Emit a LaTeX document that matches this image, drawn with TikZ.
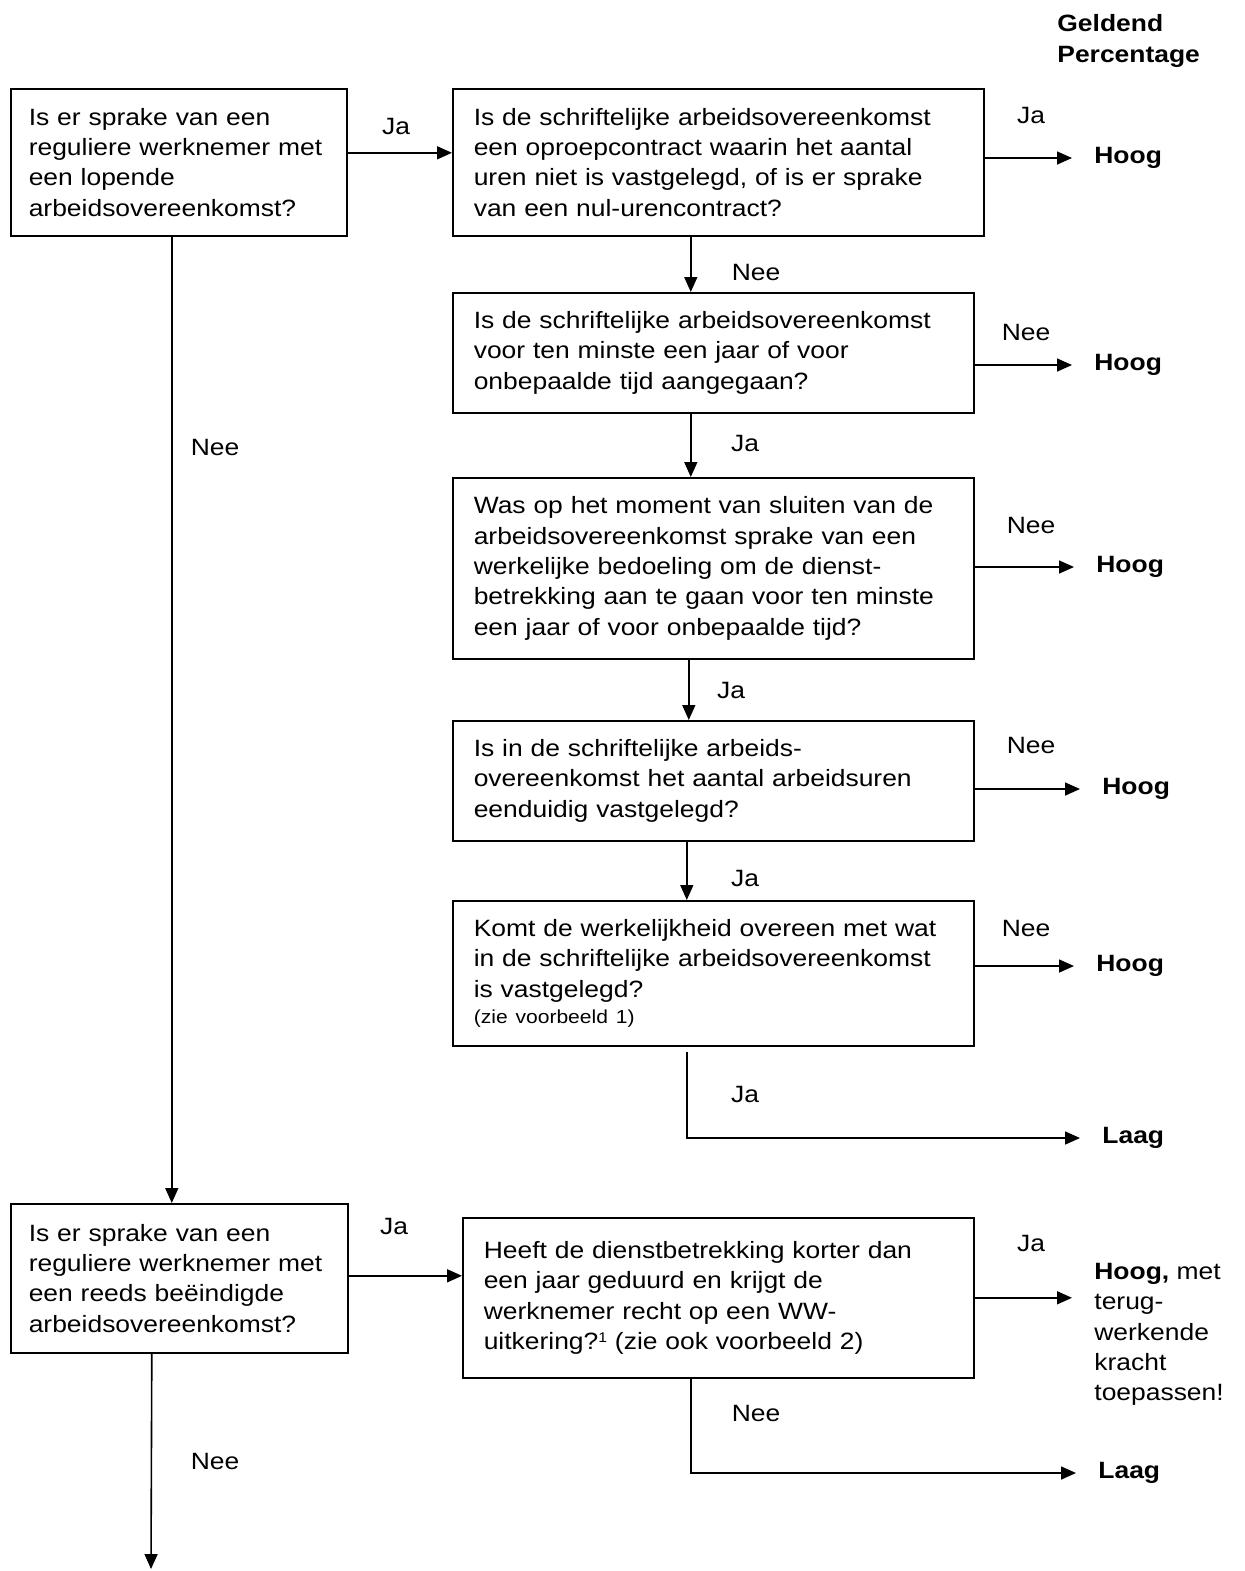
\documentclass[tikz,border=0pt]{standalone}
\usepackage{fontspec}
\setmainfont{Liberation Sans}[FakeStretch=1.12]
\usetikzlibrary{arrows.meta}

\begin{document}
\begin{tikzpicture}[x=0.5pt,y=-0.5pt,
    every node/.style={font=\fontsize{11.8}{15.15}\selectfont},
    vraag/.style={draw, line width=0.8pt, anchor=north west, align=left, inner xsep=10.5pt, inner ysep=0pt},
    uitkomst/.style={anchor=west, inner xsep=11pt, inner ysep=0pt, font=\fontsize{11.8}{15.15}\selectfont\bfseries},
    pijl/.style={line width=0.8pt, -{Triangle[length=7.5pt,width=6.5pt]}}]
%\draw [help lines] (0,0) grid (1245,1571);
    \useasboundingbox (0,0) rectangle (1245,1571);
    \node[anchor=west, align=left, inner sep=0pt, font=\fontsize{11.8}{15.5}\selectfont\bfseries] (kop) at (1057,41) {Geldend\\Percentage};
    % lopende arbeidsovereenkomst
    \node[vraag, text width=150pt, inner xsep=9pt, minimum height=73.5pt] (vraagA) at (10,88) {Is er sprake van een\\reguliere werknemer met\\een lopende\\arbeidsovereenkomst?};
    \node[vraag, text width=244.5pt, minimum height=73.5pt] (vraagB) at (452,88) {Is de schriftelijke arbeidsovereenkomst\\een oproepcontract waarin het aantal\\uren niet is vastgelegd, of is er sprake\\van een nul-urencontract?};
    \node[vraag, text width=239.5pt, minimum height=60pt] (vraagC) at (452,292) {Is de schriftelijke arbeidsovereenkomst\\voor ten minste een jaar of voor\\onbepaalde tijd aangegaan?};
    \node[vraag, text width=239.5pt, minimum height=90.5pt] (vraagD) at (452,477) {Was op het moment van sluiten van de\\arbeidsovereenkomst sprake van een\\werkelijke bedoeling om de dienst-\\betrekking aan te gaan voor ten minste\\een jaar of voor onbepaalde tijd?};
    \node[vraag, text width=239.5pt, minimum height=60pt] (vraagE) at (452,720) {Is in de schriftelijke arbeids-\\overeenkomst het aantal arbeidsuren\\eenduidig vastgelegd?};
    \node[vraag, text width=239.5pt, minimum height=72.5pt] (vraagF) at (452,900) {Komt de werkelijkheid overeen met wat\\in de schriftelijke arbeidsovereenkomst\\is vastgelegd?\\[-2pt]{\fontsize{9.4}{11}\selectfont(zie voorbeeld 1)}};
    % beeindigde arbeidsovereenkomst
    \node[vraag, text width=150.5pt, inner xsep=9pt, minimum height=74.5pt] (vraagG) at (10,1203) {Is er sprake van een\\reguliere werknemer met\\een reeds beëindigde\\arbeidsovereenkomst?};
    \node[vraag, text width=234.5pt, minimum height=80pt] (vraagH) at (462,1217) {Heeft de dienstbetrekking korter dan\\een jaar geduurd en krijgt de\\werknemer recht op een WW-\\uitkering?\raisebox{0.55ex}{\fontsize{7}{7}\selectfont 1} (zie ook voorbeeld 2)\\[3pt]};
    % uitkomsten
    \node[uitkomst] (hoogB) at (1072,158) {Hoog};
    \node[uitkomst] (hoogC) at (1072,365) {Hoog};
    \node[uitkomst] (hoogD) at (1074,567) {Hoog};
    \node[uitkomst] (hoogE) at (1080,789) {Hoog};
    \node[uitkomst] (hoogF) at (1074,966) {Hoog};
    \node[uitkomst] (laagF) at (1080,1138) {Laag};
    \node[anchor=north west, align=left, inner xsep=11pt, inner ysep=0pt] (hoogH) at (1072,1263) {\textbf{Hoog,} met\\terug-\\werkende\\kracht\\toepassen!};
    \node[uitkomst] (laagH) at (1076,1473) {Laag};
    \coordinate (eindG) at (151,1569);
    % pijlen
    \draw[pijl] ([yshift=4.75pt]vraagA.east) -- ([yshift=4.75pt]vraagB.west);
    \draw[pijl] (vraagB.east |- hoogB.west) -- (hoogB.west);
    \draw[pijl] ([xshift=-13.75pt]vraagB.south) -- ([xshift=-13.75pt]vraagB.south |- vraagC.north);
    \draw[pijl] (vraagC.east |- hoogC.west) -- (hoogC.west);
    \draw[pijl] ([xshift=-11.25pt]vraagC.south) -- ([xshift=-11.25pt]vraagC.south |- vraagD.north);
    \draw[pijl] (vraagD.east |- hoogD.west) -- (hoogD.west);
    \draw[pijl] ([xshift=-12.25pt]vraagD.south) -- ([xshift=-12.25pt]vraagD.south |- vraagE.north);
    \draw[pijl] (vraagE.east |- hoogE.west) -- (hoogE.west);
    \draw[pijl] ([xshift=-13.25pt]vraagE.south) -- ([xshift=-13.25pt]vraagE.south |- vraagF.north);
    \draw[pijl] (vraagF.east |- hoogF.west) -- (hoogF.west);
    \draw[pijl] ([xshift=-13.25pt,yshift=-2.5pt]vraagF.south) |- (laagF.west);
    \draw[pijl] ([xshift=-3.5pt]vraagA.south) -- ([xshift=-3.5pt]vraagA.south |- vraagG.north);
    \draw[pijl] ([yshift=1.25pt]vraagG.east) -- ([yshift=1.25pt]vraagG.east -| vraagH.west);
    \draw[pijl] (vraagH.east) -- (vraagH.east -| hoogH.west);
    \draw[pijl] ([xshift=-13.75pt]vraagH.south) |- (laagH.west);
    \draw[pijl] ([xshift=-13.75pt]vraagG.south) -- (eindG);
    % labels
    \node (jaAB) at (396,126) {Ja};
    \node (jaB) at (1031,115) {Ja};
    \node (neeBC) at (756,272) {Nee};
    \node (neeC) at (1026,332) {Nee};
    \node (jaCD) at (745,443) {Ja};
    \node (neeD) at (1031,525) {Nee};
    \node (jaDE) at (731,690) {Ja};
    \node (neeE) at (1031,745) {Nee};
    \node (jaEF) at (745,878) {Ja};
    \node (neeF) at (1026,928) {Nee};
    \node (jaFL) at (745,1094) {Ja};
    \node (neeAG) at (215,447) {Nee};
    \node (jaGH) at (394,1226) {Ja};
    \node (jaH) at (1031,1243) {Ja};
    \node (neeHL) at (756,1413) {Nee};
    \node (neeG) at (215,1461) {Nee};
\end{tikzpicture}
\end{document}
